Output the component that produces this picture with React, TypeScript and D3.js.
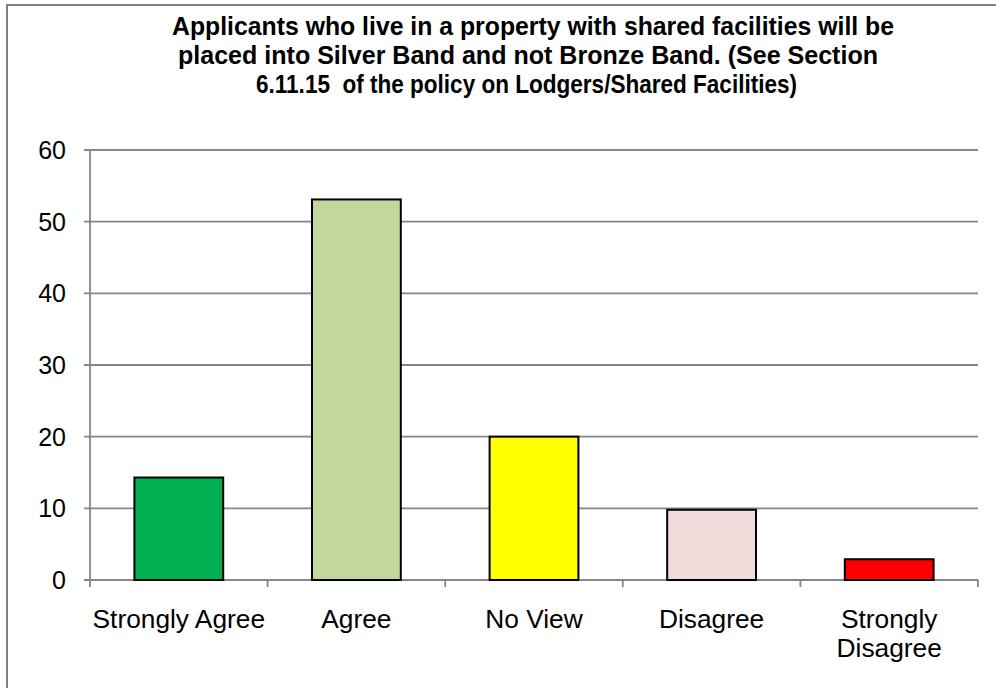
import React from "react";
import * as d3 from "d3";

const categories: string[][] = [["Strongly Agree"], ["Agree"], ["No View"], ["Disagree"], ["Strongly", "Disagree"]];
const values: number[] = [14.3, 53.1, 20, 9.8, 2.9];
const colors: string[] = ["#00B050", "#C3D69B", "#FFFF00", "#F2DCDB", "#FF0000"];
const yTicks: number[] = [0, 10, 20, 30, 40, 50, 60];
const titleLines: string[] = [
  "Applicants who live in a property with shared facilities will be",
  "placed into Silver Band and not Bronze Band. (See Section",
  "6.11.15  of the policy on Lodgers/Shared Facilities)",
];
const titleWidths: number[] = [722, 700, 541];

const W = 996;
const H = 688;
const left = 90;
const right = 978;
const top = 150;
const bottom = 580;

export default function App() {
  const keys = categories.map((c) => c.join(" "));
  const x = d3.scaleBand<string>().domain(keys).range([left, right]).paddingInner(0.5).paddingOuter(0.25);
  const xb = d3.scaleBand<string>().domain(keys).range([left, right]);
  const y = d3.scaleLinear().domain([0, 60]).range([bottom, top]);
  const font = "'Liberation Sans', Arial, sans-serif";
  const grid = "#868686";
  const starts = [172, 178, 256];

  return (
    <div style={{ position: "absolute", left: 0, top: 0 }}>
      <svg width={W} height={H} style={{ display: "block", background: "#fff" }}>
        <rect x={7} y={5} width={W + 20} height={H + 20} fill="#fff" stroke="#595959" strokeWidth={1.5} />
        {titleLines.map((t, i) => (
          <text
            key={i}
            x={starts[i]}
            y={35 + i * 29}
            textAnchor="start"
            fontFamily={font}
            fontWeight="bold"
            fontSize={26.5}
            textLength={titleWidths[i]}
            lengthAdjust="spacingAndGlyphs"
            fill="#000"
            style={{ whiteSpace: "pre" }}
            xmlSpace="preserve"
          >
            {t}
          </text>
        ))}
        {yTicks.map((t) => (
          <g key={t}>
            <line x1={left - 6} x2={right} y1={y(t)} y2={y(t)} stroke={grid} strokeWidth={1.8} />
            <text x={66} y={y(t) + 9} textAnchor="end" fontFamily={font} fontSize={25} fill="#000">
              {t}
            </text>
          </g>
        ))}
        <line x1={left} x2={left} y1={top} y2={bottom} stroke={grid} strokeWidth={1.8} />
        {keys.map((k) => (
          <line key={k} x1={(xb(k) as number) + xb.bandwidth()} x2={(xb(k) as number) + xb.bandwidth()} y1={bottom} y2={bottom + 7} stroke={grid} strokeWidth={1.8} />
        ))}
        <line x1={left} x2={left} y1={bottom} y2={bottom + 7} stroke={grid} strokeWidth={1.8} />
        {keys.map((k, i) => (
          <rect
            key={k}
            x={x(k)}
            y={y(values[i])}
            width={x.bandwidth()}
            height={y(0) - y(values[i])}
            fill={colors[i]}
            stroke="#000"
            strokeWidth={2}
          />
        ))}
        {categories.map((c, i) => (
          <text key={i} textAnchor="middle" fontFamily={font} fontSize={26.3} fill="#000">
            {c.map((ln, j) => (
              <tspan key={j} x={(xb(keys[i]) as number) + xb.bandwidth() / 2} y={628 + j * 29}>
                {ln}
              </tspan>
            ))}
          </text>
        ))}
      </svg>
    </div>
  );
}
